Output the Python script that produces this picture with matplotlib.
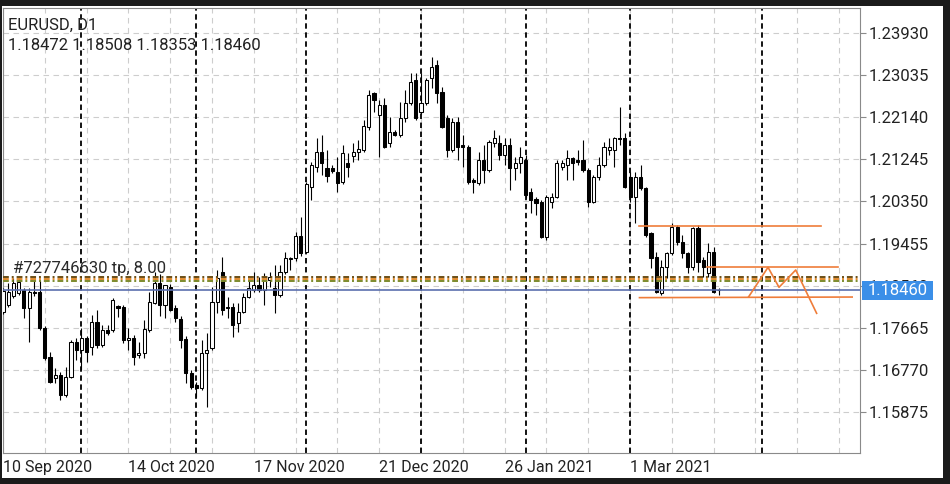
import matplotlib
matplotlib.use("Agg")
import matplotlib.pyplot as plt
import matplotlib.transforms as mtransforms
from matplotlib.patches import Rectangle
import numpy as np
import pandas as pd

# EURUSD D1, broker calendar (no bars on 25 Dec and 1 Jan)
dates = pd.bdate_range("2020-09-10", "2021-03-24")
dates = dates[~dates.isin(pd.to_datetime(["2020-12-25", "2021-01-01"]))]

opens = [1.1800, 1.1815, 1.1834, 1.1840, 1.1847, 1.1809, 1.1843, 1.1843, 1.1766, 1.1704,
         1.1660, 1.1666, 1.1624, 1.1662, 1.1736, 1.1719, 1.1745, 1.1726, 1.1779, 1.1730,
         1.1762, 1.1762, 1.1813, 1.1811, 1.1740, 1.1745, 1.1709, 1.1713, 1.1762, 1.1819,
         1.1862, 1.1815, 1.1853, 1.1809, 1.1785, 1.1743, 1.1670, 1.1645, 1.1638, 1.1713,
         1.1723, 1.1821, 1.1885, 1.1811, 1.1811, 1.1777, 1.1800, 1.1832, 1.1847, 1.1857,
         1.1847, 1.1868, 1.1851, 1.1836, 1.1885, 1.1915, 1.1915, 1.1961, 1.1928, 1.2066,
         1.2108, 1.2140, 1.2106, 1.2106, 1.2098, 1.2076, 1.2117, 1.2131, 1.2140, 1.2144,
         1.2193, 1.2265, 1.2219, 1.2240, 1.2159, 1.2183, 1.2176, 1.2212, 1.2244, 1.2293,
         1.2225, 1.2244, 1.2297, 1.2325, 1.2267, 1.2212, 1.2144, 1.2204, 1.2155, 1.2151,
         1.2081, 1.2074, 1.2123, 1.2102, 1.2159, 1.2159, 1.2134, 1.2155, 1.2106, 1.2117,
         1.2123, 1.2055, 1.2040, 1.2034, 1.1959, 1.2034, 1.2044, 1.2108, 1.2112, 1.2127,
         1.2123, 1.2123, 1.2102, 1.2034, 1.2087, 1.2112, 1.2144, 1.2144, 1.2170, 1.2170,
         1.2087, 1.2044, 1.2087, 1.2063, 1.1968, 1.1917, 1.1840, 1.1896, 1.1925, 1.1981,
         1.1949, 1.1925, 1.1896, 1.1978, 1.1910, 1.1883, 1.1928, 1.18472]
highs = [1.1851, 1.1862, 1.1872, 1.1872, 1.1851, 1.1851, 1.1866, 1.1868, 1.1770, 1.1715,
         1.1681, 1.1673, 1.1683, 1.1740, 1.1745, 1.1766, 1.1749, 1.1794, 1.1804, 1.1772,
         1.1772, 1.1830, 1.1815, 1.1815, 1.1766, 1.1751, 1.1736, 1.1783, 1.1843, 1.1885,
         1.1881, 1.1857, 1.1860, 1.1815, 1.1792, 1.1749, 1.1677, 1.1651, 1.1740, 1.1755,
         1.1853, 1.1889, 1.1917, 1.1832, 1.1819, 1.1819, 1.1840, 1.1868, 1.1885, 1.1874,
         1.1883, 1.1885, 1.1900, 1.1900, 1.1928, 1.1917, 1.1970, 1.2002, 1.2076, 1.2119,
         1.2170, 1.2176, 1.2144, 1.2112, 1.2129, 1.2155, 1.2138, 1.2159, 1.2166, 1.2208,
         1.2272, 1.2267, 1.2250, 1.2255, 1.2214, 1.2187, 1.2246, 1.2272, 1.2308, 1.2308,
         1.2308, 1.2297, 1.2342, 1.2336, 1.2278, 1.2219, 1.2212, 1.2214, 1.2176, 1.2155,
         1.2085, 1.2140, 1.2155, 1.2166, 1.2187, 1.2176, 1.2170, 1.2170, 1.2129, 1.2151,
         1.2134, 1.2063, 1.2044, 1.2038, 1.2049, 1.2053, 1.2123, 1.2123, 1.2144, 1.2129,
         1.2144, 1.2166, 1.2106, 1.2091, 1.2129, 1.2161, 1.2170, 1.2172, 1.2236, 1.2180,
         1.2098, 1.2098, 1.2112, 1.2066, 1.1970, 1.1928, 1.1910, 1.1928, 1.1989, 1.1985,
         1.1964, 1.1928, 1.1981, 1.1985, 1.1917, 1.1947, 1.1938, 1.18508]
lows = [1.1796, 1.1811, 1.1830, 1.1836, 1.1787, 1.1736, 1.1834, 1.1762, 1.1698, 1.1649,
        1.1649, 1.1613, 1.1619, 1.1660, 1.1698, 1.1677, 1.1694, 1.1709, 1.1723, 1.1726,
        1.1751, 1.1758, 1.1789, 1.1734, 1.1719, 1.1687, 1.1702, 1.1702, 1.1758, 1.1817,
        1.1792, 1.1787, 1.1802, 1.1779, 1.1723, 1.1649, 1.1636, 1.1619, 1.1634, 1.1598,
        1.1719, 1.1798, 1.1794, 1.1787, 1.1747, 1.1758, 1.1798, 1.1830, 1.1843, 1.1843,
        1.1815, 1.1853, 1.1798, 1.1832, 1.1881, 1.1889, 1.1908, 1.1919, 1.1925, 1.2038,
        1.2098, 1.2091, 1.2076, 1.2095, 1.2055, 1.2072, 1.2087, 1.2119, 1.2123, 1.2140,
        1.2187, 1.2225, 1.2129, 1.2148, 1.2151, 1.2174, 1.2172, 1.2204, 1.2240, 1.2208,
        1.2221, 1.2240, 1.2276, 1.2244, 1.2191, 1.2129, 1.2140, 1.2123, 1.2108, 1.2072,
        1.2053, 1.2070, 1.2074, 1.2098, 1.2151, 1.2123, 1.2112, 1.2059, 1.2081, 1.2095,
        1.2042, 1.2010, 1.2006, 1.1957, 1.1953, 1.2021, 1.2042, 1.2102, 1.2081, 1.2081,
        1.2112, 1.2098, 1.2023, 1.2032, 1.2081, 1.2108, 1.2134, 1.2108, 1.2155, 1.2063,
        1.2034, 1.1989, 1.2059, 1.1959, 1.1893, 1.1840, 1.1836, 1.1872, 1.1921, 1.1942,
        1.1915, 1.1883, 1.1889, 1.1885, 1.1874, 1.1874, 1.1840, 1.18353]
closes = [1.1845, 1.1843, 1.1862, 1.1864, 1.1809, 1.1843, 1.1840, 1.1766, 1.1702, 1.1651,
          1.1666, 1.1624, 1.1662, 1.1736, 1.1719, 1.1745, 1.1715, 1.1779, 1.1730, 1.1762,
          1.1755, 1.1826, 1.1809, 1.1740, 1.1745, 1.1704, 1.1713, 1.1764, 1.1821, 1.1862,
          1.1815, 1.1857, 1.1804, 1.1787, 1.1740, 1.1670, 1.1641, 1.1638, 1.1713, 1.1719,
          1.1821, 1.1872, 1.1804, 1.1809, 1.1772, 1.1800, 1.1832, 1.1851, 1.1857, 1.1847,
          1.1874, 1.1874, 1.1836, 1.1885, 1.1915, 1.1913, 1.1961, 1.1925, 1.2072, 1.2112,
          1.2140, 1.2117, 1.2089, 1.2100, 1.2074, 1.2138, 1.2108, 1.2140, 1.2146, 1.2195,
          1.2261, 1.2250, 1.2240, 1.2151, 1.2183, 1.2176, 1.2212, 1.2244, 1.2289, 1.2212,
          1.2244, 1.2293, 1.2321, 1.2265, 1.2193, 1.2144, 1.2204, 1.2151, 1.2151, 1.2076,
          1.2076, 1.2123, 1.2102, 1.2161, 1.2170, 1.2134, 1.2155, 1.2106, 1.2117, 1.2129,
          1.2049, 1.2038, 1.2032, 1.1959, 1.2044, 1.2044, 1.2117, 1.2117, 1.2127, 1.2117,
          1.2119, 1.2102, 1.2034, 1.2087, 1.2112, 1.2151, 1.2151, 1.2170, 1.2168, 1.2066,
          1.2044, 1.2087, 1.2063, 1.1964, 1.1915, 1.1843, 1.1896, 1.1925, 1.1981, 1.1949,
          1.1925, 1.1896, 1.1978, 1.1906, 1.1896, 1.1928, 1.1843, 1.18460]

price_ticks = [1.15875, 1.16770, 1.17665, 1.18560, 1.19455,
               1.20350, 1.21245, 1.22140, 1.23035, 1.23930]
bid = 1.18460
tp_levels = [1.18744, 1.18701, 1.18659]
tp_colors = ["#6b4e16", "#e08a2e", "#7d8a2c"]
tp_text = "#727746630 tp, 8.00"

# hand drawn objects (bar index, price)
hlines_drawn = [((121.8, 1.19828), (156.5, 1.19828)),
                ((134.8, 1.18950), (159.8, 1.18950)),
                ((121.8, 1.18305), (162.5, 1.18318))]
zigzag_x = [142.7, 146.4, 148.5, 151.7, 155.7]
zigzag_y = [1.18325, 1.18950, 1.18525, 1.18893, 1.17972]
future_separator = 145.3

W, H = 950, 484
fig = plt.figure(figsize=(W / 100, H / 100), dpi=100, facecolor="#1b1b1b")
fig.patches.append(Rectangle((2 / W, 6 / H), 941 / W, 472 / H, transform=fig.transFigure,
                             facecolor="white", edgecolor="none", zorder=-10))
ax = fig.add_axes([3 / W, (H - 453) / H, 857 / W, 445.5 / H])
ax.set_facecolor("white")

o = np.array(opens); h = np.array(highs); l = np.array(lows); c = np.array(closes)
x = np.arange(len(dates))

ax.set_xlim(0.29, 164.0)
ax.set_ylim(1.15003, 1.24472)

# grid
for gx in np.arange(0, 165, 8):
    ax.axvline(gx, color="#cdcdcd", lw=0.8, ls=(0, (5, 4)), zorder=1)
for gy in price_ticks:
    ax.axhline(gy, color="#cdcdcd", lw=0.8, ls=(0, (5, 4)), zorder=1)

# month separators
month_start = [i for i in range(1, len(dates)) if dates[i].month != dates[i - 1].month]
for sx in month_start + [future_separator]:
    ax.axvline(sx, color="black", lw=1.3, ls=(0, (3, 2)), zorder=2)

# candles
up = c >= o
ax.vlines(x, l, h, color="black", lw=0.8, zorder=3)
body_bot = np.minimum(o, c)
body_h = np.maximum(np.abs(c - o), 0.00004)
ax.bar(x, body_h, bottom=body_bot, width=0.6,
       color=np.where(up, "white", "black"), edgecolor="black", linewidth=0.75, zorder=4)

# trade levels
for lev, col in zip(tp_levels, tp_colors):
    ax.axhline(lev, color=col, lw=1.4, ls=(0, (3, 1.5, 1, 1.5)), zorder=5)
ax.axhline(bid, color="#5b6fae", lw=1.2, zorder=5)
ax.text(2.0, tp_levels[0] + 0.0002, tp_text, fontsize=12, family="Roboto",
        color="#2a2a2a", va="bottom", ha="left", zorder=6)

# user drawn lines
for (x0, y0), (x1, y1) in hlines_drawn:
    ax.plot([x0, x1], [y0, y1], color="#ef7d3a", lw=1.2, zorder=6)
ax.plot(zigzag_x, zigzag_y, color="#ef7d3a", lw=1.2, zorder=6)

# axes styling
for s in ax.spines.values():
    s.set_color("#8a8a8a")
    s.set_linewidth(0.8)
ax.yaxis.tick_right()
ax.set_yticks(price_ticks)
ax.set_yticklabels([f"{v:.5f}" for v in price_ticks], family="Roboto", fontsize=12, color="#222222")
ax.tick_params(axis="y", length=4, pad=2, color="#8a8a8a")
tick_idx = list(range(0, len(dates), 24))
ax.set_xticks(tick_idx)
ax.set_xticklabels([f"{dates[i].day} {dates[i]:%b %Y}" for i in tick_idx],
                   ha="left", family="Roboto", fontsize=11.5, color="#222222")
ax.tick_params(axis="x", length=0, pad=5)

# bid price label on the scale
tr = mtransforms.blended_transform_factory(ax.transAxes, ax.transData)
box_h = 19 / 4705
ax.add_patch(Rectangle((1.002, bid - box_h / 2), 0.083, box_h, transform=tr,
                       facecolor="#3b8fe8", edgecolor="none", clip_on=False, zorder=10))
ax.text(1.0435, bid, f"{bid:.5f}", transform=tr, ha="center", va="center",
        family="Roboto", fontsize=12, color="white", zorder=11, clip_on=False)

# header
fig.text(8 / W, 1 - 25 / H, "EURUSD, D1", family="Roboto", fontsize=12, color="#222222", va="center")
fig.text(8 / W, 1 - 45 / H, " ".join(f"{v:.5f}" for v in (opens[-1], highs[-1], lows[-1], closes[-1])),
         family="Roboto", fontsize=12, color="#222222", va="center")

fig.savefig("out.png", dpi=100, facecolor=fig.get_facecolor())
